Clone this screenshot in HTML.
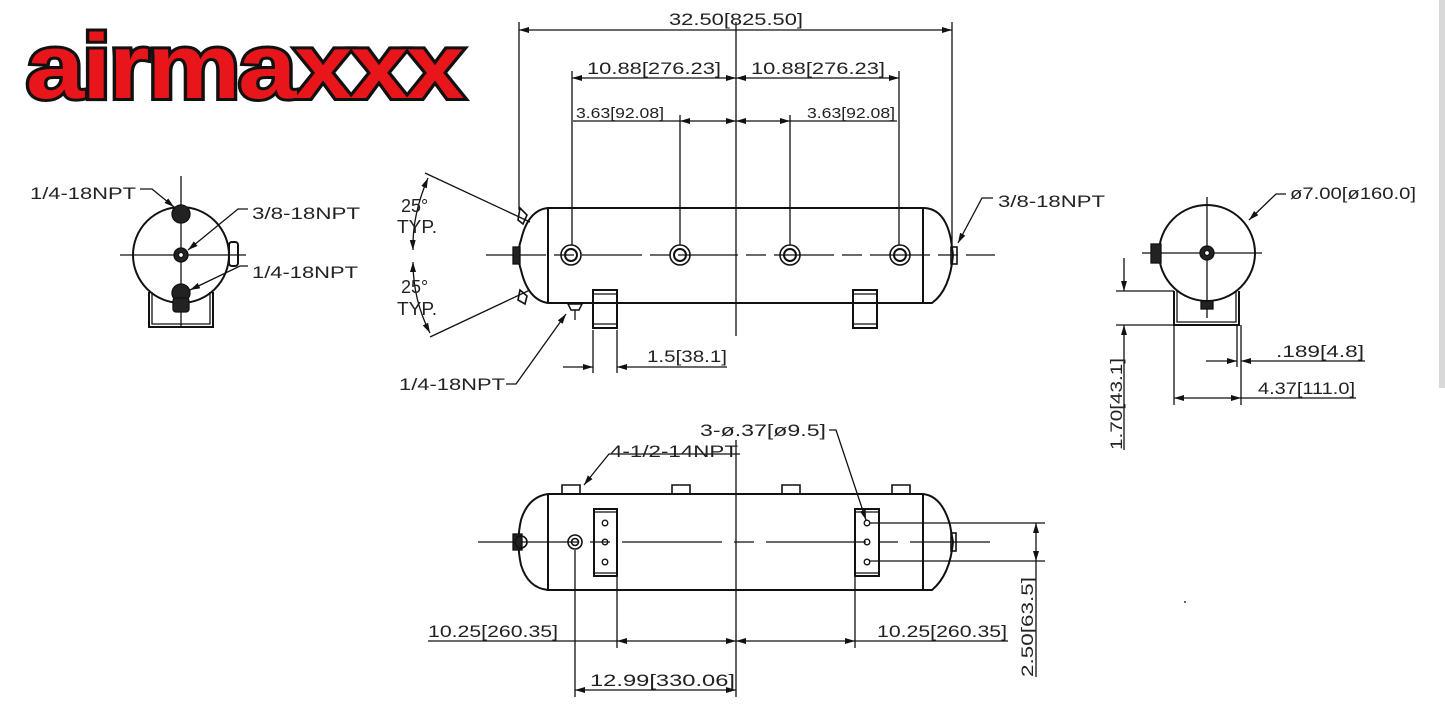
<!DOCTYPE html>
<html><head><meta charset="utf-8"><style>
html,body{margin:0;padding:0;background:#fff;}
svg{display:block;}
text{font-family:"Liberation Sans",sans-serif;fill:#222;}
.t{font-size:17px;}
</style></head><body>
<svg width="1445" height="711" viewBox="0 0 1445 711" xmlns="http://www.w3.org/2000/svg">
<defs>
<marker id="a" viewBox="0 0 10 6" refX="10" refY="3" markerWidth="10" markerHeight="6" orient="auto-start-reverse" markerUnits="userSpaceOnUse"><path d="M0,0L10,3L0,6z" fill="#111"/></marker>
</defs>
<rect x="1439" y="0" width="6" height="388" fill="#d8d8d8"/>
<!-- logo -->
<text x="26" y="98" font-size="92" font-weight="bold" textLength="436" lengthAdjust="spacingAndGlyphs" style="font-family:'Liberation Sans',sans-serif;fill:#e8161b;stroke:#111;stroke-width:6;paint-order:stroke;letter-spacing:-2px">airmaxxx</text>

<g stroke="#111" fill="none" stroke-width="1.3">
<!-- LEFT END VIEW -->
<line x1="120" y1="255" x2="246" y2="255"/>
<line x1="181" y1="176" x2="181" y2="326"/>
<circle cx="181" cy="255" r="48" stroke-width="2"/>
<path d="M149,292 V327 H213 V292" stroke-width="2"/>
<path d="M152,292 V324 H210 V292"/>
<rect x="229" y="242" width="9" height="24" rx="3" stroke-width="2"/>
<circle cx="181" cy="214" r="9" fill="#222"/>
<circle cx="181" cy="255" r="7" fill="#222"/>
<circle cx="181" cy="255" r="2.5" fill="#fff"/>
<circle cx="181" cy="293" r="9" fill="#222"/>
<rect x="173" y="298" width="16" height="14" rx="3" fill="#222"/>
<path d="M140,189 H152 L174,207" marker-end="url(#a)"/>
<path d="M248,209 H238 L188,250" marker-end="url(#a)"/>
<path d="M248,266 H240 L190,290" marker-end="url(#a)"/>

<!-- TOP VIEW TANK -->
<line x1="486" y1="255" x2="995" y2="255" stroke-dasharray="60,8,20,8"/>
<line x1="736" y1="22" x2="736" y2="336"/>
<path d="M548,208 H923 Q945,208 951,240 L953,255 Q950,290 932,303 H548 Q528,300 521,270 Q516,255 521,240 Q528,210 548,208 Z" stroke-width="2"/>
<line x1="548" y1="208" x2="548" y2="303" stroke-width="2"/>
<line x1="923" y1="208" x2="923" y2="303" stroke-width="2"/>
<rect x="513" y="247" width="7" height="17" fill="#222"/>
<rect x="951" y="247" width="6" height="17" stroke-width="1.6"/>
<path d="M520,208 L527,215 L523,224 L518,220Z" stroke-width="1.6"/>
<path d="M520,290 L527,296 L525,304 L518,300Z" stroke-width="1.6"/>
<g stroke-width="1.6">
<circle cx="571" cy="255" r="10"/><circle cx="571" cy="255" r="6" stroke-width="2"/>
<circle cx="680" cy="255" r="10"/><circle cx="680" cy="255" r="6" stroke-width="2"/>
<circle cx="790" cy="255" r="10"/><circle cx="790" cy="255" r="6" stroke-width="2"/>
<circle cx="900" cy="255" r="10"/><circle cx="900" cy="255" r="6" stroke-width="2"/>
</g>
<rect x="593" y="290" width="24" height="38" stroke-width="2"/>
<line x1="593" y1="294" x2="617" y2="294"/><line x1="593" y1="324" x2="617" y2="324"/>
<rect x="853" y="290" width="24" height="38" stroke-width="2"/>
<line x1="853" y1="294" x2="877" y2="294"/><line x1="853" y1="324" x2="877" y2="324"/>
<path d="M568,304 H582 L579,310 H571Z" stroke-width="1.5"/>
<line x1="575" y1="310" x2="575" y2="320"/>
<!-- dims -->
<line x1="519" y1="22" x2="519" y2="210"/>
<line x1="952" y1="22" x2="952" y2="245"/>
<line x1="519" y1="30" x2="952" y2="30" marker-start="url(#a)" marker-end="url(#a)"/>
<line x1="572" y1="71" x2="572" y2="245"/>
<line x1="899" y1="71" x2="899" y2="245"/>
<line x1="572" y1="78" x2="736" y2="78" marker-start="url(#a)" marker-end="url(#a)"/>
<line x1="736" y1="78" x2="899" y2="78" marker-start="url(#a)" marker-end="url(#a)"/>
<line x1="680" y1="115" x2="680" y2="245"/>
<line x1="790" y1="115" x2="790" y2="245"/>
<line x1="573" y1="121" x2="680" y2="121"/>
<line x1="680" y1="121" x2="736" y2="121" marker-start="url(#a)" marker-end="url(#a)"/>
<line x1="736" y1="121" x2="790" y2="121" marker-start="url(#a)" marker-end="url(#a)"/>
<line x1="790" y1="121" x2="897" y2="121"/>
<!-- angle -->
<line x1="425" y1="173" x2="530" y2="222"/>
<line x1="430" y1="337" x2="530" y2="290"/>
<path d="M428,178 Q412,215 413,250" marker-start="url(#a)" marker-end="url(#a)"/>
<path d="M413,262 Q413,300 430,333" marker-start="url(#a)" marker-end="url(#a)"/>
<!-- leaders -->
<path d="M993,198 H982 L958,243" marker-end="url(#a)"/>
<path d="M506,384 H516 L566,314" marker-end="url(#a)"/>
<line x1="593" y1="330" x2="593" y2="373"/>
<line x1="617" y1="330" x2="617" y2="373"/>
<line x1="563" y1="367" x2="593" y2="367" marker-end="url(#a)"/>
<line x1="727" y1="367" x2="617" y2="367" marker-end="url(#a)"/>

<!-- RIGHT END VIEW -->
<line x1="1142" y1="253" x2="1262" y2="253"/>
<line x1="1207" y1="197" x2="1207" y2="318"/>
<circle cx="1207" cy="253" r="48" stroke-width="2"/>
<path d="M1174,291 V325 H1239 V291" stroke-width="2"/>
<path d="M1177,291 V322 H1236 V291"/>
<rect x="1151" y="244" width="10" height="19" fill="#222"/>
<rect x="1201" y="301" width="12" height="8" fill="#222"/>
<circle cx="1207" cy="253" r="7" fill="#222"/>
<circle cx="1207" cy="253" r="2.5" fill="#fff"/>
<path d="M1286,194 H1276 L1249,220" marker-end="url(#a)"/>
<line x1="1116" y1="291" x2="1174" y2="291"/>
<line x1="1116" y1="325" x2="1174" y2="325"/>
<line x1="1124" y1="258" x2="1124" y2="291" marker-end="url(#a)"/>
<line x1="1124" y1="450" x2="1124" y2="325" marker-end="url(#a)"/>
<line x1="1237" y1="325" x2="1237" y2="367"/>
<line x1="1241" y1="325" x2="1241" y2="405"/>
<line x1="1174" y1="325" x2="1174" y2="405"/>
<line x1="1206" y1="361" x2="1237" y2="361" marker-end="url(#a)"/>
<line x1="1365" y1="361" x2="1241" y2="361" marker-end="url(#a)"/>
<line x1="1174" y1="398" x2="1241" y2="398" marker-start="url(#a)" marker-end="url(#a)"/>
<line x1="1241" y1="398" x2="1356" y2="398"/>

<!-- BOTTOM VIEW -->
<line x1="478" y1="542" x2="990" y2="542" stroke-dasharray="100,12,20,12"/>
<line x1="736" y1="440" x2="736" y2="697"/>
<path d="M548,494 H923 Q942,496 950,525 L953,542 Q950,575 932,590 H548 Q528,588 521,565 Q516,542 521,520 Q528,497 548,494 Z" stroke-width="2"/>
<line x1="548" y1="494" x2="548" y2="590" stroke-width="2"/>
<line x1="923" y1="494" x2="923" y2="590" stroke-width="2"/>
<g stroke-width="1.6">
<path d="M562,494 V485 H580 V494"/><path d="M672,494 V485 H690 V494"/><path d="M782,494 V485 H800 V494"/><path d="M892,494 V485 H910 V494"/>
</g>
<rect x="513" y="534" width="9" height="16" fill="#222"/>
<circle cx="521" cy="542" r="6" stroke-width="1.6"/>
<rect x="951" y="533" width="5" height="18" stroke-width="1.6"/>
<circle cx="575" cy="542" r="7" stroke-width="1.6"/><circle cx="575" cy="542" r="3.5" stroke-width="1.6"/>
<rect x="594" y="509" width="23" height="67" stroke-width="2"/>
<line x1="594" y1="512" x2="617" y2="512"/><line x1="594" y1="573" x2="617" y2="573"/>
<circle cx="605" cy="523" r="2.8"/><circle cx="605" cy="542" r="2.8"/><circle cx="605" cy="562" r="2.8"/>
<rect x="855" y="509" width="24" height="67" stroke-width="2"/>
<line x1="855" y1="512" x2="879" y2="512"/><line x1="855" y1="573" x2="879" y2="573"/>
<circle cx="867" cy="523" r="2.8"/><circle cx="867" cy="542" r="2.8"/><circle cx="867" cy="562" r="2.8"/>
<line x1="870" y1="523" x2="1045" y2="523"/>
<line x1="870" y1="561" x2="1045" y2="561"/>
<line x1="1036" y1="523" x2="1036" y2="561" marker-start="url(#a)" marker-end="url(#a)"/>
<line x1="1036" y1="561" x2="1036" y2="677"/>
<path d="M740,454 H609 L596,470 L584,485" marker-end="url(#a)"/>
<path d="M829,430 H836 L866,520" marker-end="url(#a)"/>
<line x1="575" y1="550" x2="575" y2="697"/>
<line x1="617" y1="577" x2="617" y2="648"/>
<line x1="855" y1="577" x2="855" y2="648"/>
<line x1="428" y1="641" x2="617" y2="641"/>
<line x1="617" y1="641" x2="736" y2="641" marker-start="url(#a)" marker-end="url(#a)"/>
<line x1="736" y1="641" x2="855" y2="641" marker-start="url(#a)" marker-end="url(#a)"/>
<line x1="855" y1="641" x2="1008" y2="641"/>
<line x1="575" y1="690" x2="736" y2="690" marker-start="url(#a)" marker-end="url(#a)"/>
</g>
<circle cx="1185" cy="602" r="1" fill="#333"/>

<!-- text -->
<g class="t">
<text x="669" y="25" textLength="134" lengthAdjust="spacingAndGlyphs">32.50[825.50]</text>
<text x="587" y="74" textLength="134" lengthAdjust="spacingAndGlyphs">10.88[276.23]</text>
<text x="751" y="74" textLength="134" lengthAdjust="spacingAndGlyphs">10.88[276.23]</text>
<text x="576" y="118" font-size="15" textLength="88" lengthAdjust="spacingAndGlyphs">3.63[92.08]</text>
<text x="807" y="118" font-size="15" textLength="88" lengthAdjust="spacingAndGlyphs">3.63[92.08]</text>
<text x="30" y="199" textLength="106" lengthAdjust="spacingAndGlyphs">1/4-18NPT</text>
<text x="252" y="219" textLength="108" lengthAdjust="spacingAndGlyphs">3/8-18NPT</text>
<text x="252" y="278" textLength="106" lengthAdjust="spacingAndGlyphs">1/4-18NPT</text>
<text x="401" y="212" font-size="18">25°</text>
<text x="397" y="233" font-size="18" textLength="40" lengthAdjust="spacingAndGlyphs">TYP.</text>
<text x="401" y="293" font-size="18">25°</text>
<text x="397" y="315" font-size="18" textLength="40" lengthAdjust="spacingAndGlyphs">TYP.</text>
<text x="998" y="207" textLength="107" lengthAdjust="spacingAndGlyphs">3/8-18NPT</text>
<text x="399" y="390" textLength="106" lengthAdjust="spacingAndGlyphs">1/4-18NPT</text>
<text x="647" y="362" textLength="80" lengthAdjust="spacingAndGlyphs">1.5[38.1]</text>
<text x="1290" y="199" textLength="126" lengthAdjust="spacingAndGlyphs">ø7.00[ø160.0]</text>
<text x="1276" y="357" textLength="88" lengthAdjust="spacingAndGlyphs">.189[4.8]</text>
<text x="1258" y="394" textLength="97" lengthAdjust="spacingAndGlyphs">4.37[111.0]</text>
<text transform="translate(1122,450) rotate(-90)" textLength="92" lengthAdjust="spacingAndGlyphs">1.70[43.1]</text>
<text x="700" y="436" textLength="126" lengthAdjust="spacingAndGlyphs">3-ø.37[ø9.5]</text>
<text x="610" y="457" textLength="128" lengthAdjust="spacingAndGlyphs">4-1/2-14NPT</text>
<text x="428" y="637" textLength="130" lengthAdjust="spacingAndGlyphs">10.25[260.35]</text>
<text x="877" y="637" textLength="130" lengthAdjust="spacingAndGlyphs">10.25[260.35]</text>
<text x="590" y="686" textLength="145" lengthAdjust="spacingAndGlyphs">12.99[330.06]</text>
<text transform="translate(1033,677) rotate(-90)" textLength="100" lengthAdjust="spacingAndGlyphs">2.50[63.5]</text>
</g>
</svg>
</body></html>
